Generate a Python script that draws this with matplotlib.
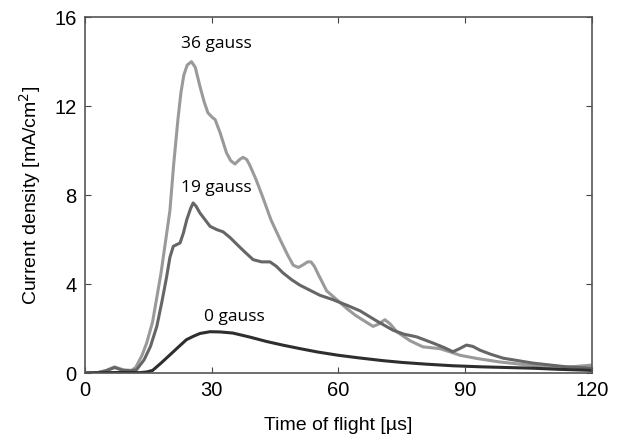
import matplotlib.pyplot as plt

# time of flight [us] and current density [mA/cm2]
t36 = [0, 3, 5, 7, 9, 11, 12, 13.5, 14.6, 16, 18, 20.1, 21, 22, 22.7, 23.4, 24.2, 25.2, 26.1,
       27.2, 28.2, 29.1, 30.1, 30.8, 32, 33.5, 34.5, 35.5, 36.6, 37.4, 38.3, 39, 40.5, 42.1,
       44, 46.2, 48, 49.3, 50.5, 51.5, 52.7, 53.5, 54.3, 55.2, 57.2, 59.6, 62, 64, 66.5,
       68.2, 69.5, 71, 72.3, 73.8, 77, 80, 84, 86.5, 88.8, 93, 98.2, 104, 110, 115, 120]
j36 = [0, 0.02, 0.12, 0.28, 0.15, 0.12, 0.25, 0.8, 1.35, 2.3, 4.5, 7.3, 9.4, 11.4, 12.6, 13.4, 13.85, 14.0, 13.75,
       12.9, 12.2, 11.7, 11.5, 11.4, 10.8, 9.9, 9.55, 9.4, 9.6, 9.7, 9.6, 9.35, 8.7, 7.9,
       6.9, 6.0, 5.3, 4.85, 4.75, 4.85, 5.0, 5.0, 4.8, 4.45, 3.7, 3.3, 2.9, 2.6, 2.3,
       2.1, 2.2, 2.4, 2.2, 1.86, 1.45, 1.18, 1.1, 0.95, 0.8, 0.65, 0.5, 0.38, 0.28, 0.28, 0.36]

t19 = [0, 3, 5, 7, 9, 11, 12.2, 14, 15.5, 17, 18.2, 19.3, 20.1, 20.9, 22.5, 23.3, 24.1, 25.0, 25.6,
       26.3, 27.2, 28, 29.6, 31.2, 32.7, 34.3, 35.9, 37.8, 39.8, 41.8, 43.8, 45.3, 46.9, 48.9,
       50.9, 55.6, 58.7, 62, 65.1, 69, 72.9, 75.5, 78.5, 82.4, 85, 87.1, 88.7, 90.3, 91.8,
       93.5, 96, 99, 106, 114, 120]
j19 = [0, 0.02, 0.1, 0.25, 0.12, 0.1, 0.15, 0.6, 1.2, 2.1, 3.2, 4.3, 5.2, 5.7, 5.85, 6.3, 6.9, 7.4, 7.65,
       7.5, 7.2, 7.0, 6.6, 6.45, 6.35, 6.1, 5.8, 5.45, 5.1, 5.0, 5.0, 4.8, 4.5, 4.2,
       3.95, 3.5, 3.3, 3.05, 2.8, 2.35, 1.93, 1.75, 1.63, 1.35, 1.15, 0.96, 1.1, 1.26, 1.2,
       1.03, 0.85, 0.67, 0.45, 0.28, 0.22]

t0 = [0, 5, 10, 13, 14.6, 16, 18, 20, 21.7, 24, 25.6, 27.2, 29.6, 32, 35, 39, 43, 47, 50.9,
      55, 60, 65, 70.5, 75, 80.9, 87, 94, 100, 106, 112, 118.7, 120]
j0 = [0, 0.02, 0.03, 0.02, 0.05, 0.12, 0.45, 0.8, 1.1, 1.5, 1.65, 1.78, 1.86, 1.85, 1.8, 1.62, 1.42, 1.25, 1.1,
      0.95, 0.8, 0.68, 0.56, 0.48, 0.4, 0.33, 0.28, 0.25, 0.22, 0.17, 0.13, 0.12]

labels = ['36 gauss', '19 gauss', '0 gauss']
label_xy = [(31, 14.8), (31.2, 8.3), (35.3, 2.5)]

plt.rcParams['font.family'] = ['Liberation Sans', 'DejaVu Sans']

fig = plt.figure(figsize=(6.25, 4.41), dpi=100)
ax = fig.add_axes([0.136, 0.154, 0.811, 0.807])

ax.plot(t36, j36, color='#9a9a9a', lw=2.2)
ax.plot(t19, j19, color='#666666', lw=2.2)
ax.plot(t0, j0, color='#2e2e2e', lw=2.2)

for lab, (x, y) in zip(labels, label_xy):
    ax.text(x, y, lab, ha='center', va='center', fontsize=12.5,
            family=['Open Sans', 'DejaVu Sans'])

ax.set_xlim(0, 120)
ax.set_ylim(0, 16)
ax.set_xticks([0, 30, 60, 90, 120])
ax.set_yticks([0, 4, 8, 12, 16])
ax.tick_params(direction='in', top=True, right=True, labelsize=14.5, length=4,
               color='#444444', pad=6)
for s in ax.spines.values():
    s.set_color('#555555')
    s.set_linewidth(1.2)

ax.set_xlabel('Time of flight [µs]', fontsize=14, labelpad=12)
ax.set_ylabel('Current density [mA/cm$^2$]', fontsize=14, labelpad=8)

fig.savefig('out.png', dpi=100)
